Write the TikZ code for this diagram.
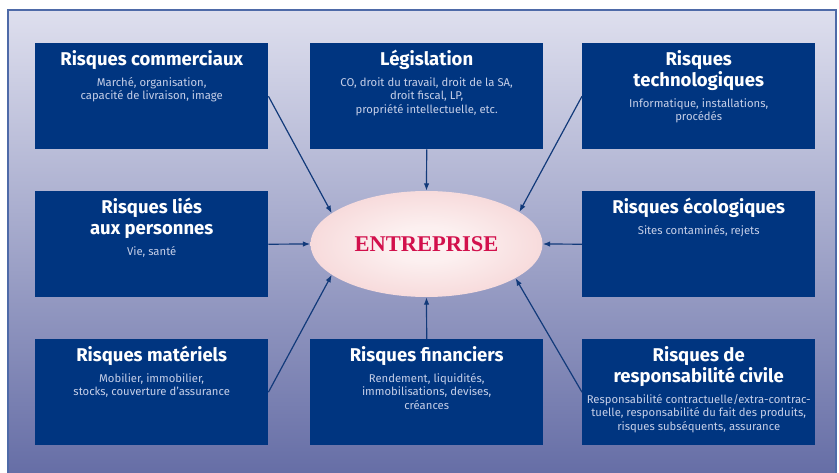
\documentclass[tikz,border=0pt]{standalone}
\usepackage{fontspec}
\setmainfont{Fira Sans}
\newfontfamily\entfont{Liberation Serif}
\usetikzlibrary{arrows.meta,shapes.geometric}
\definecolor{navy}{RGB}{0,53,128}
\definecolor{bgtop}{RGB}{222,223,238}
\definecolor{bgbot}{RGB}{102,110,166}
\definecolor{framec}{RGB}{78,106,168}
\definecolor{subc}{RGB}{198,207,232}
\definecolor{arrc}{RGB}{18,58,122}
\definecolor{entc}{RGB}{252,240,240}
\definecolor{ente}{RGB}{240,188,190}
\definecolor{entred}{RGB}{210,16,76}
\pgfdeclareradialshading{entshade}{\pgfpointorigin}{color(0bp)=(entc); color(8bp)=(entc); color(50bp)=(ente)}
\newcommand\ttlf{\fontsize{18.5}{21}\selectfont\bfseries\color{white}}
\newcommand\subf{\fontsize{11.3}{13.3}\selectfont\mdseries\color{subc}}
\newcommand\bx[2]{\parbox[c][106pt][t]{233pt}{\centering\ttlf\rule{0pt}{22pt}#1\par\vspace{8pt}\subf #2\par}}
\begin{document}
\begin{tikzpicture}[x=1pt,y=-1pt,
  box/.style={fill=navy, inner sep=0pt, minimum width=233pt, minimum height=106pt, anchor=north west},
  arr/.style={draw=arrc, line width=1.2pt, -{Latex[length=7.5pt,width=5.5pt]}},
  framestyle/.style={draw=framec, line width=1.4pt},
  entstyle/.style={ellipse, shading=entshade, inner sep=0pt, minimum width=232pt, minimum height=106pt,
    font=\entfont\fontsize{22.5}{26}\selectfont\bfseries, text=entred}]
\useasboundingbox (0,0) rectangle (839,473);
\fill[white] (0,0) rectangle (839,473);
\shade[top color=bgtop, bottom color=bgbot] (8,10) rectangle (836,473);
\draw[framestyle] (8,473) -- (8,10) -- (836,10) -- (836,473);
\node[box] (com) at (35,43) {\bx{Risques commerciaux}{Marché, organisation,\\capacité de livraison, image}};
\node[box] (leg) at (310,43) {\bx{Législation}{CO, droit du travail, droit de la SA,\\droit fiscal, LP,\\propriété intellectuelle, etc.}};
\node[box] (tech) at (582,43) {\bx{Risques\\technologiques}{Informatique, installations,\\procédés}};
\node[box] (pers) at (35,191) {\bx{Risques liés\\aux personnes}{Vie, santé}};
\node[box] (eco) at (582,191) {\bx{Risques écologiques}{Sites contaminés, rejets}};
\node[box] (mat) at (35,339) {\bx{Risques matériels}{Mobilier, immobilier,\\stocks, couverture d’assurance}};
\node[box] (fin) at (310,339) {\bx{Risques financiers}{Rendement, liquidités,\\immobilisations, devises,\\créances}};
\node[box] (civ) at (582,339) {\bx{Risques de\\responsabilité civile}{Responsabilité contractuelle/extra-contrac-\\tuelle, responsabilité du fait des produits,\\risques subséquents, assurance}};
\node[entstyle] (ent) at (426.5,244) {ENTREPRISE};
\draw[arr] (com.east) -- (ent.162.5);
\draw[arr] (leg.south) -- (ent.north);
\draw[arr] (tech.west) -- (ent.19.9);
\draw[arr] (pers.east) -- (ent.west);
\draw[arr] (eco.west) -- (ent.east);
\draw[arr] (mat.east) -- (ent.198);
\draw[arr] (fin.north) -- (ent.south);
\draw[arr] (civ.west) -- (ent.-21);
\end{tikzpicture}
\end{document}
